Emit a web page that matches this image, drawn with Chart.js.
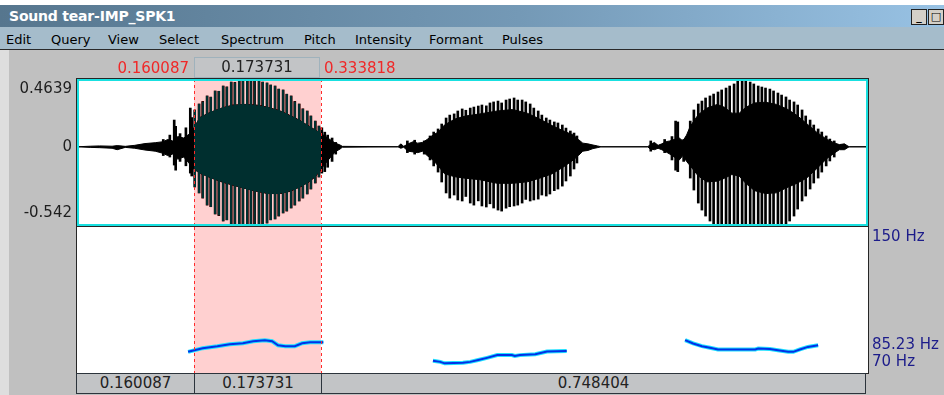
<!DOCTYPE html>
<html>
<head>
<meta charset="utf-8">
<title>Sound tear-IMP_SPK1</title>
<script src="https://cdn.jsdelivr.net/npm/chart.js@4.4.1/dist/chart.umd.min.js"></script>
<style>
    html, body { margin: 0; padding: 0; }
    body { width: 944px; height: 395px; position: relative; overflow: hidden; background: #c0c0c0; font-family: 'DejaVu Sans', sans-serif; }
    #topStrip { position: absolute; left: 0; top: 0; width: 944px; height: 5px; background: #fff; }
    #titlebar { position: absolute; left: 0; top: 5px; width: 944px; height: 22px; background: linear-gradient(to right, #56768e, #7499b6 55%, #98c2e4); }
    #titlebar span { position: absolute; left: 9px; top: 3px; color: #fff; font: bold 14px 'DejaVu Sans', sans-serif; letter-spacing: -0.2px; }
    .winbtn { position: absolute; top: 9px; width: 14px; height: 14px; background: #d4d0c8; border: 1px solid #222; font: bold 11px 'DejaVu Sans'; line-height: 14px; text-align: center; color: #000; }
    #menubar { position: absolute; left: 0; top: 27px; width: 944px; height: 22px; background: #a5bccb; border-bottom: 1px solid #2a2a2a; }
    .menu { position: absolute; top: 5px; font: 13px 'DejaVu Sans', sans-serif; color: #000; }
    #leftStrip { position: absolute; left: 0; top: 50px; width: 9px; height: 345px; background: #dedede; }
    canvas { position: absolute; left: 0; top: 0; }
    .tlabel { position: absolute; font: 15px 'DejaVu Sans', sans-serif; line-height: 20px; white-space: nowrap; }
    .red { color: #f02828; }
    .box { position: absolute; box-sizing: border-box; height: 21px; background: #c2c4c6; color: #222; text-align: center; font: 15px 'DejaVu Sans', sans-serif; line-height: 19px; }
</style>
</head>
<body>
<div id="topStrip"></div>
<div id="titlebar"><span>Sound tear-IMP_SPK1</span></div>
<div class="winbtn" style="left:911px">_</div>
<div class="winbtn" style="left:928px">&#9633;</div>
<div id="menubar">
    <span class="menu" style="left:6px">Edit</span>
    <span class="menu" style="left:51px">Query</span>
    <span class="menu" style="left:108px">View</span>
    <span class="menu" style="left:159px">Select</span>
    <span class="menu" style="left:221px">Spectrum</span>
    <span class="menu" style="left:304px">Pitch</span>
    <span class="menu" style="left:355px">Intensity</span>
    <span class="menu" style="left:429px">Formant</span>
    <span class="menu" style="left:502px">Pulses</span>
</div>
<div id="leftStrip"></div>
<canvas id="waveCanvas" width="944" height="395"></canvas>
<canvas id="pitchCanvas" width="944" height="395"></canvas>
<div id="labels"></div>

<script>
// sound and selection (seconds)
const totalDur = 1.082222;
const selStart = 0.160087;
const selEnd = 0.333818;

// waveform axis
const waveMin = -0.542;
const waveMax = 0.4639;
const waveTicks = [0.4639, 0, -0.542];
const waveTickLabels = ['0.4639', '0', '-0.542'];

// pitch axis
const pitchMin = 70;
const pitchMax = 150;
const pitchTicks = [150, 85.23, 70];
const pitchTickLabels = ['150 Hz', '85.23 Hz', '70 Hz'];

// waveform: dense core envelope
const coreTime = [0.000, 0.018, 0.031, 0.048, 0.055, 0.066, 0.079, 0.093, 0.107, 0.118, 0.124, 0.131, 0.138, 0.146, 0.153, 0.159,
    0.168, 0.182, 0.198, 0.213, 0.230, 0.246, 0.261, 0.278, 0.291, 0.305, 0.316, 0.326, 0.332, 0.339, 0.346, 0.353, 0.360, 0.363,
    0.439, 0.443, 0.447, 0.453, 0.460, 0.466, 0.473, 0.479, 0.487, 0.494, 0.503, 0.517, 0.531, 0.551, 0.575, 0.596, 0.616, 0.633,
    0.650, 0.665, 0.679, 0.686, 0.692, 0.699, 0.706, 0.712, 0.717,
    0.781, 0.784, 0.790, 0.795, 0.800, 0.806, 0.811, 0.817, 0.824, 0.829, 0.834, 0.839, 0.850, 0.862, 0.876, 0.886, 0.896, 0.906,
    0.915, 0.927, 0.942, 0.957, 0.971, 0.985, 0.998, 1.012, 1.026, 1.037, 1.043, 1.050, 1.055, 1.057, 1.0822];
const coreHi = [0, 0.004, 0.006, 0.004, 0.008, 0.003, 0.010, 0.022, 0.028, 0.035, 0.050, 0.040, 0.070, 0.060, 0.085, 0.120,
    0.200, 0.235, 0.265, 0.285, 0.290, 0.285, 0.270, 0.245, 0.215, 0.180, 0.145, 0.115, 0.095, 0.075, 0.050, 0.026, 0.012, 0.003,
    0, 0.020, 0.003, 0.020, 0.035, 0.025, 0.030, 0.050, 0.080, 0.100, 0.150, 0.190, 0.210, 0.225, 0.245, 0.255, 0.230, 0.190,
    0.145, 0.110, 0.080, 0.050, 0.025, 0.020, 0.012, 0.006, 0,
    0, 0.015, 0.030, 0.010, 0.020, 0.035, 0.040, 0.050, 0.060, 0.040, 0.080, 0.140, 0.220, 0.265, 0.290, 0.270, 0.230, 0.230,
    0.270, 0.300, 0.305, 0.290, 0.260, 0.215, 0.160, 0.100, 0.050, 0.025, 0.015, 0.020, 0.004, 0, 0];
const coreLo = [0, -0.004, -0.006, -0.010, -0.020, -0.004, -0.010, -0.022, -0.030, -0.045, -0.060, -0.050, -0.085, -0.070, -0.110, -0.150,
    -0.180, -0.210, -0.240, -0.262, -0.285, -0.305, -0.320, -0.320, -0.305, -0.275, -0.245, -0.205, -0.165, -0.120, -0.077, -0.035, -0.015, -0.003,
    0, -0.010, -0.003, -0.030, -0.035, -0.040, -0.030, -0.060, -0.090, -0.130, -0.185, -0.205, -0.215, -0.225, -0.250, -0.250, -0.240, -0.215,
    -0.185, -0.140, -0.090, -0.060, -0.030, -0.025, -0.012, -0.006, 0,
    0, -0.015, -0.020, -0.010, -0.020, -0.035, -0.050, -0.070, -0.090, -0.060, -0.100, -0.130, -0.200, -0.240, -0.235, -0.215, -0.190, -0.200,
    -0.250, -0.300, -0.320, -0.315, -0.280, -0.250, -0.215, -0.150, -0.080, -0.040, -0.020, -0.020, -0.004, 0, 0];

// waveform: glottal spikes sticking out of the core
const spikeTime = [0.118, 0.127, 0.133, 0.135, 0.141, 0.149, 0.155, 0.157,
    0.161, 0.167, 0.172, 0.178, 0.183, 0.189, 0.194, 0.200, 0.205, 0.211, 0.216, 0.222, 0.227, 0.233, 0.238, 0.243,
    0.249, 0.254, 0.260, 0.265, 0.271, 0.276, 0.282, 0.287, 0.293, 0.298, 0.304, 0.309, 0.315, 0.320, 0.326, 0.331,
    0.335, 0.339, 0.343, 0.349, 0.354,
    0.452, 0.462, 0.475,
    0.483, 0.488, 0.494, 0.499, 0.505, 0.510, 0.516, 0.521, 0.527, 0.532, 0.538, 0.543, 0.549, 0.554, 0.560, 0.565,
    0.570, 0.576, 0.581, 0.587, 0.592, 0.598, 0.603, 0.609, 0.614, 0.620, 0.625, 0.631, 0.636, 0.642, 0.647, 0.653,
    0.658, 0.664, 0.669, 0.675, 0.680, 0.684,
    0.785, 0.804, 0.814, 0.819, 0.822, 0.830,
    0.839, 0.844, 0.850, 0.855, 0.860, 0.866, 0.871, 0.877, 0.882, 0.888, 0.893, 0.899, 0.904, 0.910, 0.915, 0.921,
    0.926, 0.932, 0.937, 0.942, 0.948, 0.953, 0.959, 0.964, 0.970, 0.975, 0.981, 0.986, 0.992, 0.997, 1.003, 1.008,
    1.014, 1.019, 1.025, 1.030, 1.036];
const spikeHi = [0.050, 0.080, 0.183, 0.140, 0.090, 0.130, 0.265, 0.200,
    0.252, 0.293, 0.310, 0.348, 0.340, 0.382, 0.380, 0.416, 0.410, 0.443, 0.440, 0.470, 0.450, 0.470, 0.470, 0.457,
    0.470, 0.443, 0.437, 0.423, 0.416, 0.395, 0.389, 0.360, 0.348, 0.310, 0.293, 0.260, 0.245, 0.211, 0.176, 0.142,
    0.130, 0.100, 0.080, 0.060, 0.030,
    0.040, 0.045, 0.040,
    0.074, 0.101, 0.122, 0.156, 0.197, 0.217, 0.225, 0.245, 0.259, 0.250, 0.265, 0.272, 0.279, 0.286, 0.280, 0.300,
    0.307, 0.313, 0.300, 0.320, 0.327, 0.334, 0.320, 0.320, 0.307, 0.293, 0.265, 0.245, 0.217, 0.197, 0.183, 0.170,
    0.163, 0.149, 0.128, 0.108, 0.094, 0.074,
    0.040, 0.050, 0.070, 0.176, 0.170, 0.050,
    0.176, 0.252, 0.293, 0.313, 0.334, 0.348, 0.361, 0.375, 0.389, 0.402, 0.416, 0.430, 0.450, 0.470, 0.450, 0.443,
    0.430, 0.416, 0.409, 0.402, 0.395, 0.382, 0.368, 0.354, 0.341, 0.320, 0.307, 0.286, 0.252, 0.211, 0.183, 0.149,
    0.122, 0.101, 0.074, 0.053, 0.040];
const spikeLo = [-0.060, -0.070, -0.125, -0.160, -0.100, -0.130, -0.180, -0.200,
    -0.275, -0.316, -0.351, -0.399, -0.410, -0.460, -0.470, -0.508, -0.500, -0.536, -0.560, -0.560, -0.540, -0.560, -0.560, -0.560,
    -0.530, -0.536, -0.522, -0.500, -0.494, -0.474, -0.453, -0.440, -0.419, -0.399, -0.371, -0.351, -0.323, -0.289, -0.248, -0.207,
    -0.180, -0.170, -0.140, -0.100, -0.050,
    -0.040, -0.050, -0.050,
    -0.090, -0.131, -0.173, -0.241, -0.316, -0.351, -0.330, -0.364, -0.371, -0.340, -0.385, -0.399, -0.370, -0.405, -0.412, -0.390,
    -0.419, -0.433, -0.440, -0.420, -0.410, -0.405, -0.399, -0.385, -0.360, -0.371, -0.364, -0.358, -0.330, -0.337, -0.323, -0.300,
    -0.289, -0.269, -0.234, -0.200, -0.152, -0.111,
    -0.030, -0.040, -0.090, -0.160, -0.170, -0.100,
    -0.214, -0.296, -0.385, -0.433, -0.474, -0.508, -0.529, -0.560, -0.560, -0.560, -0.560, -0.560, -0.560, -0.560, -0.560, -0.560,
    -0.560, -0.560, -0.560, -0.560, -0.560, -0.560, -0.550, -0.542, -0.529, -0.508, -0.474, -0.426, -0.371, -0.337, -0.289, -0.248,
    -0.214, -0.173, -0.131, -0.097, -0.070];

// pitch contours, one per syllable
const pitchTime1 = [0.152, 0.172, 0.192, 0.209, 0.227, 0.241, 0.257, 0.267, 0.275, 0.285, 0.298, 0.308, 0.319, 0.337];
const pitchHz1 = [81.6, 83.6, 84.7, 85.8, 86.3, 87.4, 88.0, 87.4, 85.2, 84.7, 84.7, 86.3, 86.9, 86.9];
const pitchTime2 = [0.487, 0.497, 0.503, 0.528, 0.538, 0.549, 0.561, 0.575, 0.595, 0.599, 0.606, 0.627, 0.643, 0.670];
const pitchHz2 = [76.7, 76.1, 75.3, 75.6, 76.1, 77.1, 78.3, 79.8, 79.8, 79.3, 79.8, 80.3, 81.8, 82.0];
const pitchTime3 = [0.832, 0.843, 0.855, 0.866, 0.877, 0.928, 0.932, 0.948, 0.959, 0.973, 0.980, 0.989, 1.000, 1.014];
const pitchHz3 = [88.0, 86.2, 84.7, 83.8, 82.9, 82.9, 83.4, 83.1, 82.5, 81.6, 81.6, 82.9, 84.3, 85.2];

document.addEventListener("DOMContentLoaded", function() {
    Chart.defaults.font.family = "'DejaVu Sans', sans-serif";

    const toPoints = (xs, ys) => xs.map((t, i) => ({ x: t, y: ys[i] }));

    // first / last tick labels sit inside the panel like in Praat
    function edgeLabel(value, labels, values, min, max) {
        const label = labels[values.indexOf(value)];
        if (value === max) return ['', label];
        if (value === min) return [label, ''];
        return label;
    }
    function edgeFont(ctx, min, max, topShift, bottomShift) {
        const value = ctx.tick ? ctx.tick.value : null;
        if (value === max) return { size: 15, lineHeight: (topShift * 2) + 'px' };
        if (value === min) return { size: 15, lineHeight: (bottomShift * 2) + 'px' };
        return { size: 15 };
    }

    // white panel, selection, dashed cursors and frame
    const panelPlugin = {
        id: 'panel',
        beforeDatasetsDraw(chart, args, opts) {
            const a = chart.chartArea, c = chart.ctx, x = chart.scales.x;
            c.save();
            c.fillStyle = '#fff';
            c.fillRect(a.left, a.top, a.width, a.height);
            if (opts.mode === 'fill') {
                const x0 = x.getPixelForValue(selStart), x1 = x.getPixelForValue(selEnd);
                c.fillStyle = '#ffd0d0';
                c.fillRect(x0, a.top, x1 - x0, a.height);
            }
            c.restore();
        },
        afterDatasetsDraw(chart, args, opts) {
            const a = chart.chartArea, c = chart.ctx, x = chart.scales.x;
            const x0 = x.getPixelForValue(selStart), x1 = x.getPixelForValue(selEnd);
            c.save();
            if (opts.mode === 'xor') {
                c.globalCompositeOperation = 'difference';
                c.fillStyle = '#002f2f';
                c.fillRect(x0, a.top, x1 - x0, a.height);
                c.globalCompositeOperation = 'source-over';
            }
            c.strokeStyle = '#ff2a2a';
            c.lineWidth = 1;
            c.setLineDash([3, 3]);
            [x0, x1].forEach(px => {
                c.beginPath();
                c.moveTo(Math.round(px) + 0.5, a.top);
                c.lineTo(Math.round(px) + 0.5, a.bottom);
                c.stroke();
            });
            c.setLineDash([]);
            c.strokeStyle = '#262626';
            c.strokeRect(a.left - 0.5, a.top - 0.5, a.width + 1, a.height + 1);
            if (opts.mode === 'xor') {
                c.strokeStyle = '#19e0e0';
                c.lineWidth = 2;
                c.strokeRect(a.left + 1, a.top + 1, a.width - 2, a.height - 2);
            }
            c.restore();
        }
    };

    const waveChart = new Chart(document.getElementById('waveCanvas'), {
        type: 'line',
        data: {
            datasets: [{
                label: 'core upper',
                data: toPoints(coreTime, coreHi),
                borderColor: '#000',
                borderWidth: 1,
                backgroundColor: '#000',
                pointRadius: 0,
                fill: '+1'
            }, {
                label: 'core lower',
                data: toPoints(coreTime, coreLo),
                borderColor: '#000',
                borderWidth: 1,
                pointRadius: 0,
                fill: false
            }, {
                type: 'bar',
                label: 'spikes',
                data: spikeTime.map((t, i) => ({ x: t, y: [spikeLo[i], spikeHi[i]] })),
                backgroundColor: '#000',
                barThickness: 2,
                borderWidth: 0
            }]
        },
        options: {
            responsive: false,
            animation: false,
            layout: { padding: { top: 79, bottom: 169, left: 0, right: 76 } },
            plugins: { legend: { display: false }, tooltip: { enabled: false }, panel: { mode: 'xor' } },
            scales: {
                x: { type: 'linear', min: 0, max: totalDur, offset: false, display: false },
                y: {
                    min: waveMin,
                    max: waveMax,
                    afterBuildTicks: s => { s.ticks = waveTicks.map(v => ({ value: v })); },
                    afterFit: s => { s.width = 77; s.paddingTop = 0; s.paddingBottom = 0; },
                    grid: { display: false, drawTicks: false },
                    border: { display: false },
                    ticks: {
                        autoSkip: false,
                        padding: 5,
                        color: '#1e1e1e',
                        callback: v => edgeLabel(v, waveTickLabels, waveTicks, waveMin, waveMax),
                        font: ctx => edgeFont(ctx, waveMin, waveMax, 10, 13)
                    }
                }
            }
        },
        plugins: [panelPlugin]
    });

    const gap = { x: null, y: null };
    const pitchData = [...toPoints(pitchTime1, pitchHz1), gap, ...toPoints(pitchTime2, pitchHz2), gap, ...toPoints(pitchTime3, pitchHz3)];

    new Chart(document.getElementById('pitchCanvas'), {
        type: 'line',
        data: {
            datasets: [{
                label: 'pitch',
                data: pitchData,
                borderColor: '#0030e8',
                borderWidth: 2,
                pointRadius: 0,
                spanGaps: false
            }, {
                label: 'pitch halo',
                data: pitchData,
                borderColor: '#1ee0ff',
                borderWidth: 4,
                pointRadius: 0,
                spanGaps: false
            }]
        },
        options: {
            responsive: false,
            animation: false,
            layout: { padding: { top: 227, bottom: 22, left: 77, right: 0 } },
            plugins: { legend: { display: false }, tooltip: { enabled: false }, panel: { mode: 'fill' } },
            scales: {
                x: { type: 'linear', min: 0, max: totalDur, offset: false, display: false },
                y: {
                    position: 'right',
                    min: pitchMin,
                    max: pitchMax,
                    afterBuildTicks: s => { s.ticks = pitchTicks.map(v => ({ value: v })); },
                    afterFit: s => { s.width = 76; s.paddingTop = 0; s.paddingBottom = 0; },
                    grid: { display: false, drawTicks: false },
                    border: { display: false },
                    ticks: {
                        autoSkip: false,
                        padding: 4,
                        color: '#1c1c8a',
                        callback: v => edgeLabel(v, pitchTickLabels, pitchTicks, pitchMin, pitchMax),
                        font: ctx => edgeFont(ctx, pitchMin, pitchMax, 10, 11)
                    }
                }
            }
        },
        plugins: [panelPlugin]
    });

    // time read-outs above and below the panels
    const xs = waveChart.scales.x;
    const area = waveChart.chartArea;
    const p0 = Math.round(xs.getPixelForValue(selStart));
    const p1 = Math.round(xs.getPixelForValue(selEnd));
    const holder = document.getElementById('labels');
    function addDiv(cls, text, style) {
        const d = document.createElement('div');
        d.className = cls;
        d.textContent = text;
        Object.assign(d.style, style);
        holder.appendChild(d);
    }
    addDiv('tlabel red', selStart.toFixed(6), { right: (944 - p0 + 5) + 'px', top: '58px' });
    addDiv('box', (selEnd - selStart).toFixed(6), { left: p0 + 'px', top: '57px', width: (p1 - p0 - 1) + 'px', border: '1px solid #9fb2bc' });
    addDiv('tlabel red', selEnd.toFixed(6), { left: (p1 + 3) + 'px', top: '58px' });

    const bottomBox = { top: '373px', border: '1px solid #2c343c' };
    addDiv('box', selStart.toFixed(6), Object.assign({ left: (area.left - 1) + 'px', width: (p0 - area.left + 2) + 'px' }, bottomBox));
    addDiv('box', (selEnd - selStart).toFixed(6), Object.assign({ left: p0 + 'px', width: (p1 - p0 + 1) + 'px' }, bottomBox));
    addDiv('box', (totalDur - selEnd).toFixed(6), Object.assign({ left: p1 + 'px', width: (area.right - p1 - 2) + 'px' }, bottomBox));
});
</script>
</body>
</html>
